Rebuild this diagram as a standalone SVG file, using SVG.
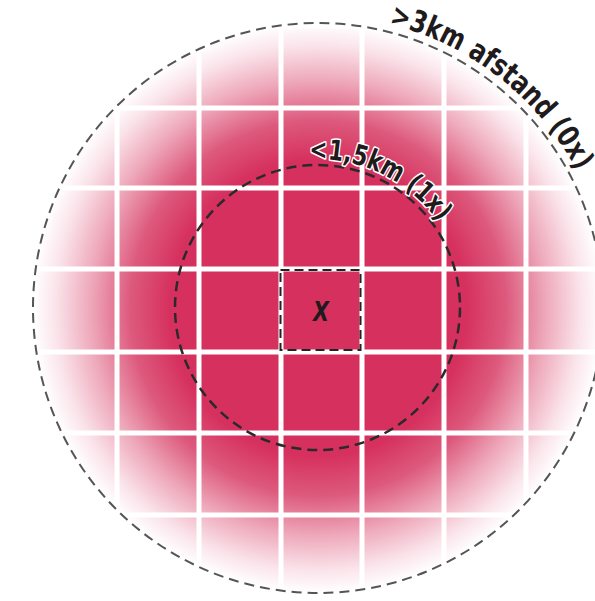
<svg xmlns="http://www.w3.org/2000/svg" width="595" height="601" viewBox="0 0 595 601">
<style>
.grid line{stroke:#fff;stroke-width:5}
.lbl{font-family:"DejaVu Sans","Liberation Sans",sans-serif;font-weight:bold;font-stretch:condensed;fill:#1f1b1c}
</style>
<defs>
<radialGradient id="fade" cx="318" cy="308" r="285" gradientUnits="userSpaceOnUse">
<stop offset="0" stop-color="#d6305e"/>
<stop offset="0.52" stop-color="#d6305e"/>
<stop offset="0.66" stop-color="#dd5a7d"/>
<stop offset="0.8" stop-color="#eea9bb"/>
<stop offset="0.92" stop-color="#fae3ea"/>
<stop offset="1" stop-color="#ffffff"/>
</radialGradient>
<clipPath id="clip"><circle cx="318" cy="308" r="285"/></clipPath>
<path id="outerArc" d="M388.9,23.7 A293,293 0 0 1 593.3,207.8"/>
<path id="innerArc" d="M309.3,159.2 A148,148 0 0 1 462.8,281.3"/>
</defs>
<rect width="595" height="601" fill="#fff"/>
<g id="zone-outer">
<circle cx="318" cy="308" r="285" fill="url(#fade)"/>
<g class="grid" clip-path="url(#clip)">
<line x1="35" y1="0" x2="35" y2="601"/>
<line x1="117" y1="0" x2="117" y2="601"/>
<line x1="199" y1="0" x2="199" y2="601"/>
<line x1="281" y1="0" x2="281" y2="601"/>
<line x1="362" y1="0" x2="362" y2="601"/>
<line x1="444" y1="0" x2="444" y2="601"/>
<line x1="526" y1="0" x2="526" y2="601"/>
<line x1="0" y1="26" x2="595" y2="26"/>
<line x1="0" y1="108" x2="595" y2="108"/>
<line x1="0" y1="188" x2="595" y2="188"/>
<line x1="0" y1="269" x2="595" y2="269"/>
<line x1="0" y1="352" x2="595" y2="352"/>
<line x1="0" y1="433" x2="595" y2="433"/>
<line x1="0" y1="515" x2="595" y2="515"/>
</g>
<circle cx="318" cy="308" r="285" fill="none" stroke="#555" stroke-width="2" stroke-dasharray="10 6"/>
<text class="lbl" font-size="30" textLength="246" lengthAdjust="spacingAndGlyphs"><textPath href="#outerArc">&gt;3km afstand (0x)</textPath></text>
</g>
<g id="zone-inner">
<circle cx="317.5" cy="307.5" r="142.5" fill="none" stroke="#2a2a2a" stroke-width="2.5" stroke-dasharray="10 6"/>
<text class="lbl" font-size="28" textLength="150" lengthAdjust="spacingAndGlyphs" stroke="#fff" stroke-width="3" paint-order="stroke" stroke-linejoin="round"><textPath href="#innerArc">&lt;1,5km (1x)</textPath></text>
</g>
<g id="center">
<rect x="280.5" y="270" width="80" height="80" fill="none" stroke="#222" stroke-width="2" stroke-dasharray="9 5"/>
<text class="lbl" x="321" y="321" font-size="26" font-style="italic" text-anchor="middle" textLength="16" lengthAdjust="spacingAndGlyphs">X</text>
</g>
</svg>
